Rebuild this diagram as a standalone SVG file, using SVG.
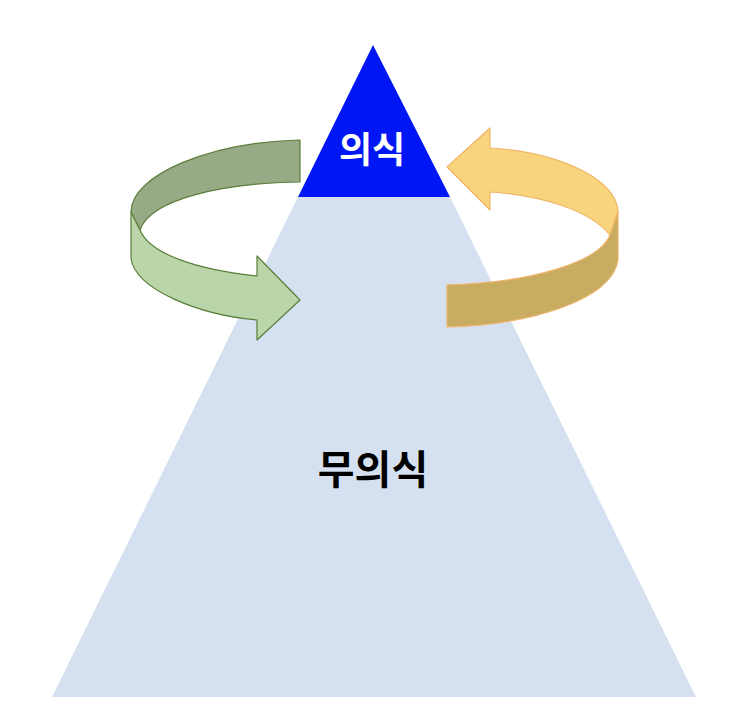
<svg xmlns="http://www.w3.org/2000/svg" width="743" height="720" viewBox="0 0 743 720">
<style>
.t{font-family:"Noto Sans CJK KR","Noto Sans",sans-serif;font-weight:bold;text-anchor:middle}
</style>
<rect width="743" height="720" fill="#fff"/>
<g id="unconscious">
<polygon points="298,197 450,197 696,697 52,697" fill="#d5e1f0"/>
<text class="t" x="373" y="484" font-size="40" fill="#000">무의식</text>
</g>
<g id="conscious">
<polygon points="373,45 450,197 298,197" fill="#0016f5"/>
<text class="t" x="372" y="163" font-size="36" fill="#fff">의식</text>
</g>
<g id="connectors">
<g id="green-arrow" stroke="#5a7f3a" stroke-width="1.2" stroke-linejoin="round">
<path d="M300,140 C210,142 131,175 131,212 L140,230 C150,200 220,183 300,182 Z" fill="#97a985"/>
<path d="M131,212 L131,258 C135,290 200,315 257,320 L257,340 L300,300 L257,256 L257,276 C200,270 150,255 140,230 Z" fill="#b9d5a9"/>
</g>
<g id="yellow-arrow" stroke="#f0b46a" stroke-width="1.2" stroke-linejoin="round">
<path d="M447,167 L490,128 L490,148 C560,152 618,180 618,212 L610,235 C590,210 540,195 490,192 L490,210 Z" fill="#f8d57c"/>
<path d="M618,212 L618,260 C612,300 530,325 447,327 L447,285 C530,283 600,262 610,235 Z" fill="#c8ac62"/>
</g>
</g>
</svg>
